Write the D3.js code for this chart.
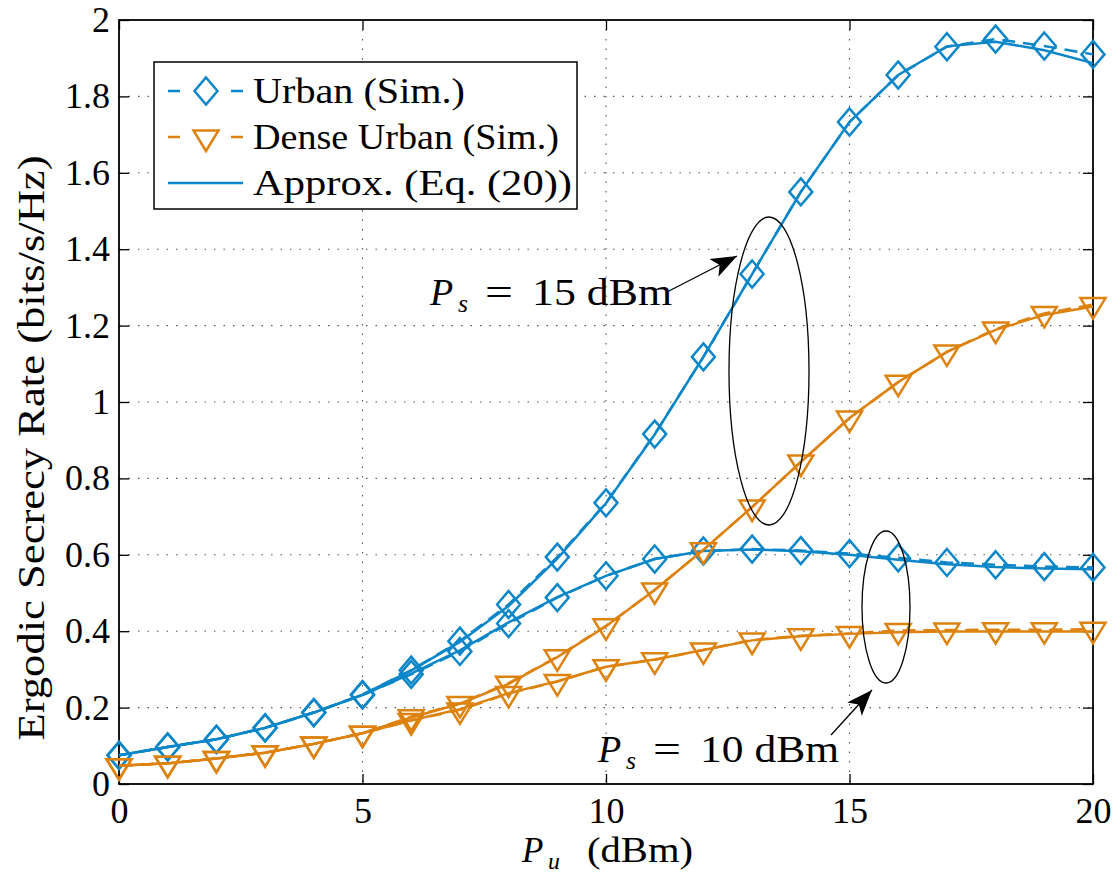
<!DOCTYPE html>
<html>
<head>
<meta charset="utf-8">
<script src="https://cdn.jsdelivr.net/npm/d3@7/dist/d3.min.js"></script>
<style>
  body { margin: 0; background: #fff; }
  svg { display: block; }
</style>
</head>
<body>
<svg id="chart" width="1120" height="873"></svg>
<script>
// transmit power of the user, dBm
const pu = [0, 1, 2, 3, 4, 5, 6, 7, 8, 9, 10, 11, 12, 13, 14, 15, 16, 17, 18, 19, 20];

// Ps = 15 dBm
const urban15Sim = [0.075, 0.097, 0.117, 0.147, 0.187, 0.234, 0.298, 0.374, 0.470, 0.594, 0.736, 0.916, 1.118, 1.335, 1.550, 1.733, 1.856, 1.930, 1.950, 1.932, 1.910];
const urban15Apx = [0.075, 0.097, 0.117, 0.147, 0.187, 0.234, 0.297, 0.372, 0.466, 0.590, 0.735, 0.915, 1.118, 1.335, 1.550, 1.733, 1.856, 1.931, 1.943, 1.921, 1.887];
const dense15Sim = [0.048, 0.054, 0.067, 0.082, 0.105, 0.133, 0.176, 0.211, 0.264, 0.333, 0.414, 0.508, 0.613, 0.725, 0.843, 0.958, 1.052, 1.131, 1.191, 1.232, 1.255];
const dense15Apx = [0.048, 0.054, 0.067, 0.082, 0.105, 0.133, 0.174, 0.210, 0.262, 0.332, 0.413, 0.508, 0.613, 0.725, 0.843, 0.958, 1.052, 1.131, 1.189, 1.228, 1.250];

// Ps = 10 dBm
const urban10Sim = [0.075, 0.097, 0.117, 0.147, 0.187, 0.233, 0.287, 0.347, 0.420, 0.488, 0.545, 0.589, 0.610, 0.615, 0.611, 0.603, 0.592, 0.580, 0.574, 0.569, 0.567];
const urban10Apx = [0.075, 0.097, 0.117, 0.147, 0.187, 0.233, 0.289, 0.350, 0.423, 0.489, 0.545, 0.589, 0.610, 0.614, 0.609, 0.600, 0.587, 0.575, 0.568, 0.564, 0.562];
const dense10Sim = [0.048, 0.054, 0.067, 0.082, 0.105, 0.133, 0.166, 0.194, 0.237, 0.268, 0.307, 0.325, 0.351, 0.377, 0.388, 0.394, 0.402, 0.403, 0.404, 0.404, 0.405];
const dense10Apx = [0.048, 0.054, 0.067, 0.082, 0.105, 0.133, 0.167, 0.196, 0.238, 0.269, 0.307, 0.326, 0.351, 0.376, 0.387, 0.393, 0.397, 0.399, 0.399, 0.399, 0.399];

const xTicks = [0, 5, 10, 15, 20];
const yTicks = [0, 0.2, 0.4, 0.6, 0.8, 1, 1.2, 1.4, 1.6, 1.8, 2];
const legendLabels = ['Urban (Sim.)', 'Dense Urban (Sim.)', 'Approx. (Eq. (20))'];

const blue = '#0b86c9';
const orange = '#dd820e';
const font = '"Liberation Serif", "Times New Roman", serif';

const margin = { top: 20, right: 27, bottom: 89, left: 119 };
const W = 1120, H = 873;
const iw = W - margin.left - margin.right;
const ih = H - margin.top - margin.bottom;

const svg = d3.select('#chart').style('font-family', font);
const g = svg.append('g').attr('transform', `translate(${margin.left},${margin.top})`);

const x = d3.scaleLinear().domain([0, 20]).range([0, iw]);
const y = d3.scaleLinear().domain([0, 2]).range([ih, 0]);

// dotted grid
const grid = g.append('g').attr('stroke', '#555').attr('stroke-width', 1.1).attr('stroke-dasharray', '1.5,8');
grid.selectAll('.gx').data(xTicks.slice(1, -1)).join('line')
  .attr('x1', d => x(d)).attr('x2', d => x(d)).attr('y1', 0).attr('y2', ih);
grid.selectAll('.gy').data(yTicks.slice(1, -1)).join('line')
  .attr('x1', 0).attr('x2', iw).attr('y1', d => y(d)).attr('y2', d => y(d));

// axes with inward ticks on all four sides
const fmt = d => String(+d.toFixed(1));
const axB = g.append('g').attr('transform', `translate(0,${ih})`)
  .call(d3.axisBottom(x).tickValues(xTicks).tickSize(-10).tickPadding(13).tickFormat(fmt));
const axT = g.append('g').call(d3.axisTop(x).tickValues(xTicks).tickSize(-10).tickFormat(''));
const axL = g.append('g')
  .call(d3.axisLeft(y).tickValues(yTicks).tickSize(-10).tickPadding(9).tickFormat(fmt));
const axR = g.append('g').attr('transform', `translate(${iw},0)`)
  .call(d3.axisRight(y).tickValues(yTicks).tickSize(-10).tickFormat(''));
[axB, axT, axL, axR].forEach(a => {
  a.attr('font-family', null).attr('font-size', null);
  a.select('.domain').remove();
  a.selectAll('line').attr('stroke', '#000').attr('stroke-width', 1.3);
  a.selectAll('text').attr('font-size', 36).attr('fill', '#000');
});
g.append('rect').attr('width', iw).attr('height', ih)
  .attr('fill', 'none').attr('stroke', '#000').attr('stroke-width', 1.8);

// data curves
const line = d3.line().x((d, i) => x(pu[i])).y(d => y(d));
const diamond = 'M0,-13.5L11.5,0L0,13.5L-11.5,0Z';
const triangle = 'M-12.5,-6.5L12.5,-6.5L0,14Z';

const series = [
  { sim: urban10Sim, apx: urban10Apx, color: blue, marker: diamond },
  { sim: dense10Sim, apx: dense10Apx, color: orange, marker: triangle },
  { sim: urban15Sim, apx: urban15Apx, color: blue, marker: diamond },
  { sim: dense15Sim, apx: dense15Apx, color: orange, marker: triangle }
];

const curves = g.append('g').attr('fill', 'none');
series.forEach(s => {
  curves.append('path').attr('d', line(s.sim))
    .attr('stroke', s.color).attr('stroke-width', 2.5).attr('stroke-dasharray', '13,8');
  curves.append('g').selectAll('path').data(s.sim).join('path')
    .attr('transform', (d, i) => `translate(${x(pu[i])},${y(d)})`)
    .attr('d', s.marker).attr('stroke', s.color).attr('stroke-width', 2.5);
  curves.append('path').attr('d', line(s.apx))
    .attr('stroke', s.color).attr('stroke-width', 2.5);
});

// annotations: ellipses, arrows and Ps labels
svg.append('defs').append('marker')
  .attr('id', 'head').attr('viewBox', '0 0 10 10').attr('refX', 10).attr('refY', 5)
  .attr('markerWidth', 26).attr('markerHeight', 26).attr('markerUnits', 'userSpaceOnUse')
  .attr('orient', 'auto')
  .append('path').attr('d', 'M0,1.2L10,5L0,8.8L2.5,5Z').attr('fill', '#000');

const notes = svg.append('g');
notes.append('ellipse').attr('cx', 769).attr('cy', 371).attr('rx', 40).attr('ry', 154)
  .attr('fill', 'none').attr('stroke', '#000').attr('stroke-width', 1.3);
notes.append('ellipse').attr('cx', 886).attr('cy', 607).attr('rx', 24).attr('ry', 76)
  .attr('fill', 'none').attr('stroke', '#000').attr('stroke-width', 1.3);
notes.append('line').attr('x1', 667).attr('y1', 292).attr('x2', 737).attr('y2', 256)
  .attr('stroke', '#000').attr('stroke-width', 1.3).attr('marker-end', 'url(#head)');
notes.append('line').attr('x1', 831).attr('y1', 735).attr('x2', 872).attr('y2', 690)
  .attr('stroke', '#000').attr('stroke-width', 1.3).attr('marker-end', 'url(#head)');

// italic P with a subscript, followed by plain text squeezed to a given width
function mathLabel(px, py, size, sub, rest, restX, restW) {
  const t = notes.append('g');
  t.append('text').attr('x', px).attr('y', py).attr('font-size', size)
    .attr('font-style', 'italic').text('P');
  t.append('text').attr('x', px + 0.74 * size).attr('y', py + 7).attr('font-size', 0.68 * size)
    .attr('font-style', 'italic').text(sub);
  t.append('text').attr('x', px + restX).attr('y', py).attr('font-size', size)
    .attr('textLength', restW).attr('lengthAdjust', 'spacingAndGlyphs').text(rest);
}
mathLabel(430, 305, 38, 's', '=', 55, 28);
notes.append('text').attr('x', 532).attr('y', 305).attr('font-size', 38)
  .attr('textLength', 140).attr('lengthAdjust', 'spacingAndGlyphs').text('15 dBm');
mathLabel(598, 762, 38, 's', '=', 55, 28);
notes.append('text').attr('x', 700).attr('y', 762).attr('font-size', 38)
  .attr('textLength', 139).attr('lengthAdjust', 'spacingAndGlyphs').text('10 dBm');

// axis titles
mathLabel(522, 862, 35, 'u', '(dBm)', 65, 106);

svg.append('text').attr('transform', 'translate(44,448) rotate(-90)')
  .attr('text-anchor', 'middle').attr('font-size', 38)
  .attr('textLength', 585).attr('lengthAdjust', 'spacingAndGlyphs')
  .text('Ergodic Secrecy Rate (bits/s/Hz)');

// legend
const lg = svg.append('g').attr('transform', 'translate(154,62)');
lg.append('rect').attr('width', 423).attr('height', 147)
  .attr('fill', '#fff').attr('stroke', '#000').attr('stroke-width', 1.5);
const legendRows = [
  { color: blue, dash: true, marker: diamond },
  { color: orange, dash: true, marker: triangle },
  { color: blue, dash: false, marker: null }
];
const legendWidths = [212, 306, 319];
legendRows.forEach((r, i) => {
  const row = lg.append('g').attr('transform', `translate(0,${29 + i * 46})`);
  if (r.dash) {
    row.append('line').attr('x1', 14).attr('x2', 26).attr('stroke', r.color).attr('stroke-width', 2.5);
    row.append('line').attr('x1', 77).attr('x2', 89).attr('stroke', r.color).attr('stroke-width', 2.5);
  } else {
    row.append('line').attr('x1', 14).attr('x2', 89).attr('stroke', r.color).attr('stroke-width', 2.5);
  }
  if (r.marker) {
    row.append('path').attr('d', r.marker).attr('transform', 'translate(52,0)')
      .attr('fill', 'none').attr('stroke', r.color).attr('stroke-width', 2.5);
  }
  row.append('text').attr('x', 99).attr('y', 12).attr('font-size', 36)
    .attr('textLength', legendWidths[i]).attr('lengthAdjust', 'spacingAndGlyphs')
    .text(legendLabels[i]);
});
</script>
</body>
</html>
